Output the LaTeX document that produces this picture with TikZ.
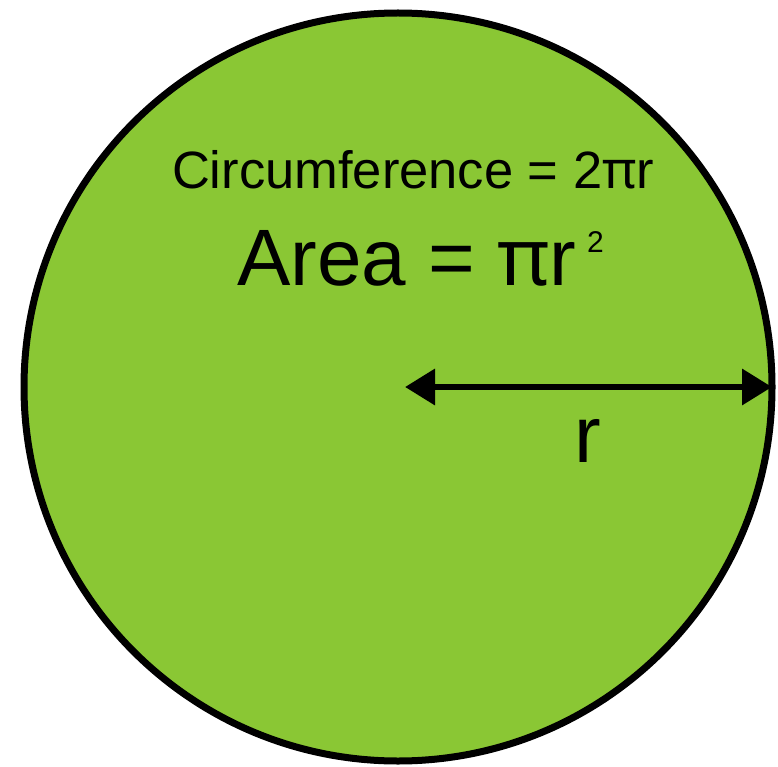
\documentclass[tikz,border=0pt]{standalone}
\usepackage{fontspec}
\setmainfont{Liberation Sans}
\newfontfamily\pifont{Noto Sans}
\newcommand{\mypi}{{\pifont π}}
\usetikzlibrary{arrows.meta}
\definecolor{disc}{RGB}{138,199,52}
\tikzset{
  disk/.style={circle, draw=black, fill=disc, line width=7pt, minimum size=748pt, inner sep=0pt, outer sep=0pt},
  radius arrow/.style={line width=6.5pt, {Triangle[length=30pt,width=35pt]}-{Triangle[length=30pt,width=35pt]}},
  lbl/.style={inner sep=0pt, outer sep=0pt, text=black}
}
\begin{document}
\begin{tikzpicture}[x=1pt,y=-1pt]
\useasboundingbox (0,0) rectangle (778,767);
\node[disk] (c) at (398,387) {};
\coordinate (start) at (405,387);
\draw[radius arrow] (start) -- (c.east);
\node[lbl, anchor=base west, font=\fontsize{52.5}{52.5}\selectfont] (circ) at (172,189) {Circumference = 2\mypi r};
\node[lbl, anchor=base west, font=\fontsize{80}{80}\selectfont] (area) at (237,285) {Area = \mypi r};
\node[lbl, anchor=base west, font=\fontsize{30}{30}\selectfont] (sq) at (587,252) {2};
\node[lbl, anchor=base, font=\fontsize{80}{80}\selectfont] (r) at (588,462) {r};
\end{tikzpicture}
\end{document}
